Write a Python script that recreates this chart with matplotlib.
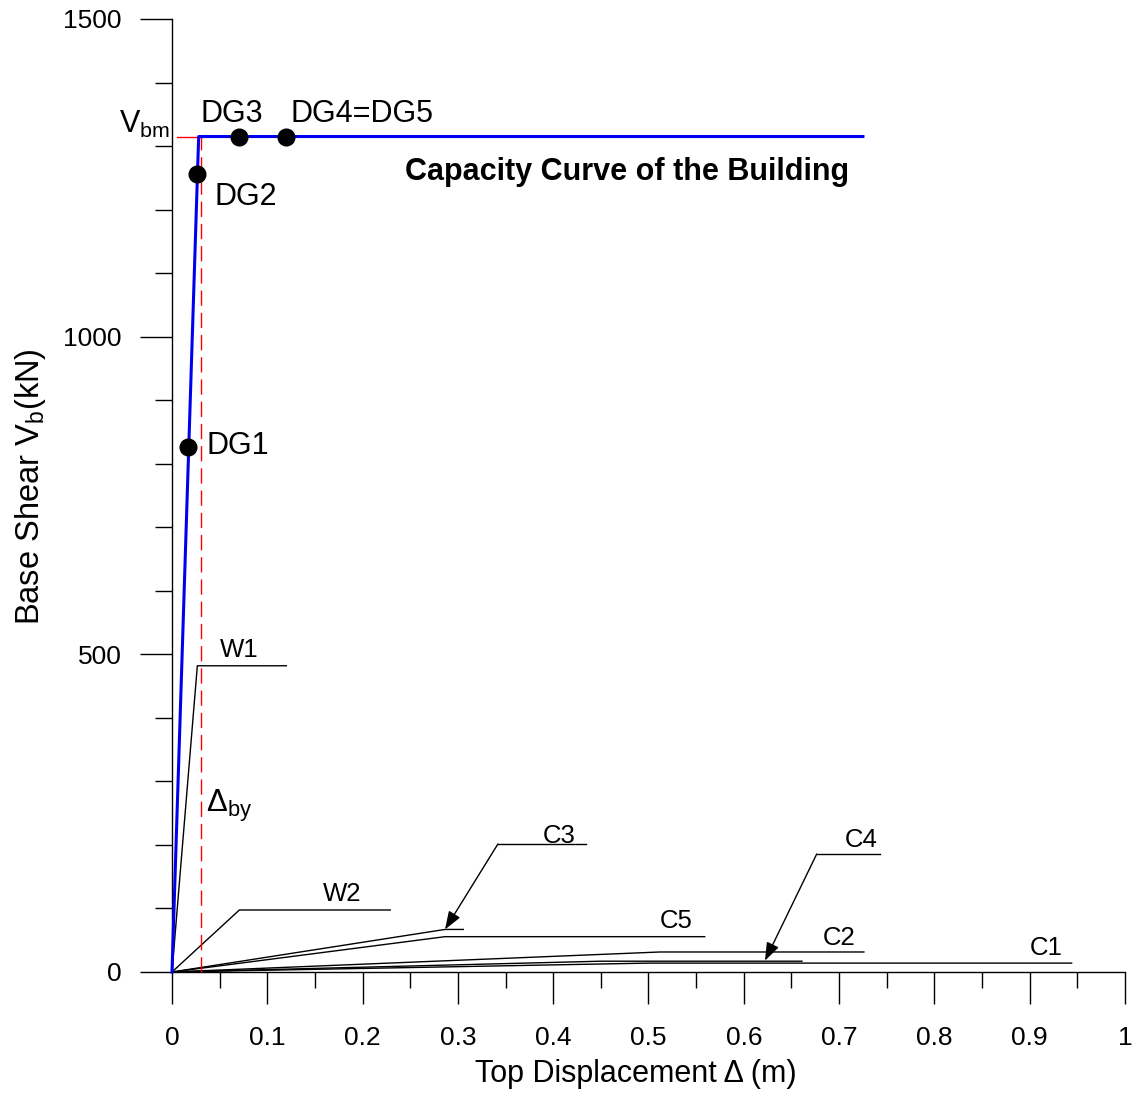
import matplotlib
matplotlib.use("Agg")
import matplotlib.pyplot as plt
from matplotlib.ticker import MultipleLocator, FixedLocator

plt.rcParams['font.family'] = ['Liberation Sans', 'DejaVu Sans']
plt.rcParams['mathtext.fontset'] = 'custom'
plt.rcParams['mathtext.rm'] = 'Liberation Sans'
plt.rcParams['mathtext.it'] = 'Liberation Sans:italic'
plt.rcParams['mathtext.bf'] = 'Liberation Sans:bold'
plt.rcParams['lines.scale_dashes'] = False

# ---------------- data ----------------
cap_disp = [0.0, 0.028, 0.725]
cap_shear = [0.0, 1315.0, 1315.0]

dg_disp = [0.0171, 0.0266, 0.0707, 0.1196]
dg_shear = [826.0, 1256.0, 1315.0, 1315.0]

w1_disp = [0.0, 0.0266, 0.120]
w1_shear = [0.0, 482.0, 482.0]
w2_disp = [0.0, 0.0707, 0.229]
w2_shear = [0.0, 97.6, 97.6]
c3_disp = [0.0, 0.2865, 0.3057]
c3_shear = [0.0, 67.0, 67.0]
c5_disp = [0.0, 0.2865, 0.559]
c5_shear = [0.0, 55.6, 55.6]
c2_disp = [0.0, 0.512, 0.726]
c2_shear = [0.0, 31.5, 31.5]
c4_disp = [0.0, 0.45, 0.661]
c4_shear = [0.0, 17.0, 17.0]
c1_disp = [0.0, 0.50, 0.944]
c1_shear = [0.0, 14.0, 14.0]

delta_by = 0.030
v_bm = 1315.0

x_major = [0.0, 0.1, 0.2, 0.3, 0.4, 0.5, 0.6, 0.7, 0.8, 0.9, 1.0]
x_labels = ['0', '0.1', '0.2', '0.3', '0.4', '0.5', '0.6', '0.7', '0.8', '0.9', '1']
y_major = [0, 500, 1000, 1500]
y_labels = ['0', '500', '1000', '1500']

# ---------------- figure ----------------
fig = plt.figure(figsize=(11.38, 10.95), dpi=100)
ax = fig.add_axes([0.15114, 0.11233, 0.83743, 0.87032])
ax.set_xlim(0, 1)
ax.set_ylim(0, 1500)
for s in ['top', 'right']:
    ax.spines[s].set_visible(False)
for s in ['left', 'bottom']:
    ax.spines[s].set_linewidth(1.0)

ax.xaxis.set_major_locator(FixedLocator(x_major))
ax.set_xticklabels(x_labels)
ax.xaxis.set_minor_locator(MultipleLocator(0.05))
ax.yaxis.set_major_locator(FixedLocator(y_major))
ax.set_yticklabels(y_labels)
ax.yaxis.set_minor_locator(MultipleLocator(100))
ax.tick_params(axis='x', which='major', direction='out', length=23, width=1.0, pad=16, labelsize=19)
ax.tick_params(axis='x', which='minor', direction='out', length=11.5, width=1.0)
ax.tick_params(axis='y', which='major', direction='out', length=23, width=1.0, pad=13, labelsize=19)
ax.tick_params(axis='y', which='minor', direction='out', length=12, width=1.0)

# element curves
for xs, ys in [(w1_disp, w1_shear), (w2_disp, w2_shear), (c3_disp, c3_shear),
               (c5_disp, c5_shear), (c2_disp, c2_shear), (c4_disp, c4_shear),
               (c1_disp, c1_shear)]:
    ax.plot(xs, ys, color='black', lw=1.0, clip_on=False, zorder=3)

# red yield lines
ax.plot([delta_by, delta_by], [0, v_bm], color='red', lw=1.0, dashes=(11, 5), zorder=4, clip_on=False)
ax.plot([0.005, delta_by + 0.001], [v_bm, v_bm], color='red', lw=1.0, zorder=4, clip_on=False)

# capacity curve
ax.plot(cap_disp, cap_shear, color='#0000ee', lw=2.2, zorder=5, clip_on=False)
ax.plot(dg_disp, dg_shear, 'o', color='black', ms=12, zorder=6, clip_on=False)

# leaders with arrows
arrow_style = '-|>,head_length=0.55,head_width=0.2'
ax.plot([0.342, 0.434], [201.5, 201.5], color='black', lw=1.0)
ax.annotate('', xy=(c3_disp[1], c3_shear[1]), xytext=(0.342, 201.5),
            arrowprops=dict(arrowstyle=arrow_style, color='black', lw=1.0,
                            mutation_scale=20, shrinkA=0, shrinkB=0))
ax.plot([0.6765, 0.743], [185.7, 185.7], color='black', lw=1.0)
ax.annotate('', xy=(0.6222, 17.8), xytext=(0.6765, 185.7),
            arrowprops=dict(arrowstyle=arrow_style, color='black', lw=1.0,
                            mutation_scale=20, shrinkA=0, shrinkB=0))

# labels
fs_dg = 22
ax.text(0.0364, 815, 'DG1', fontsize=fs_dg, va='baseline', ha='left')
ax.text(0.0451, 1208, 'DG2', fontsize=fs_dg, va='baseline', ha='left')
ax.text(0.0295, 1338, 'DG3', fontsize=fs_dg, va='baseline', ha='left')
ax.text(0.1245, 1338, 'DG4=DG5', fontsize=fs_dg, va='baseline', ha='left')
ax.text(0.2440, 1247, 'Capacity Curve of the Building', fontsize=22,
        fontweight='bold', va='baseline', ha='left')

fs_c = 18.5
ax.text(0.0504, 496, 'W1', fontsize=fs_c, va='baseline', ha='left')
ax.text(0.1584, 111, 'W2', fontsize=fs_c, va='baseline', ha='left')
ax.text(0.3893, 203.5, 'C3', fontsize=fs_c, va='baseline', ha='left')
ax.text(0.7062, 197, 'C4', fontsize=fs_c, va='baseline', ha='left')
ax.text(0.5120, 69, 'C5', fontsize=fs_c, va='baseline', ha='left')
ax.text(0.6830, 42.5, 'C2', fontsize=fs_c, va='baseline', ha='left')
ax.text(0.9000, 27, 'C1', fontsize=fs_c, va='baseline', ha='left')

ax.text(0.0360, 252, 'Δ$_{\\mathrm{by}}$', fontsize=22.5, va='baseline', ha='left')
ax.text(-0.002, 1320, 'V$_{\\mathrm{bm}}$', fontsize=22, va='baseline', ha='right',
        clip_on=False)

ax.set_xlabel('Top Displacement Δ (m)', fontsize=22)
ax.xaxis.set_label_coords(0.487, -0.091)
ax.set_ylabel('Base Shear V$_{\\mathrm{b}}$(kN)', fontsize=23.5)
ax.yaxis.set_label_coords(-0.130, 0.509)

fig.savefig('out.png', dpi=100)
